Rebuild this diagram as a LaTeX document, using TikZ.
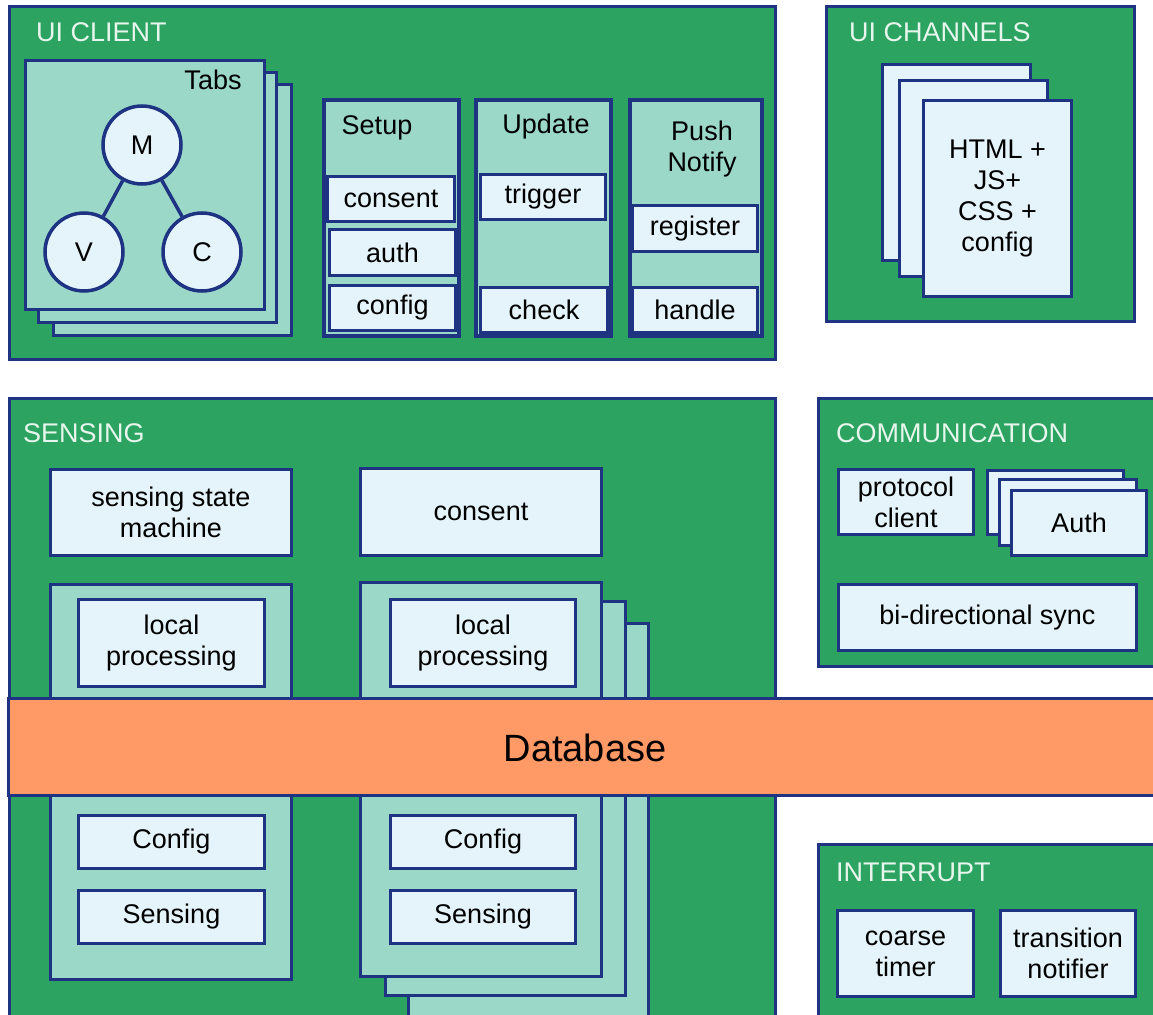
\documentclass[tikz,border=0pt]{standalone}
\usepackage{fontspec}
\setmainfont{Liberation Sans}
\definecolor{panelgreen}{HTML}{2CA360}
\definecolor{tealfill}{HTML}{9BD8C8}
\definecolor{paleblue}{HTML}{E5F4FA}
\definecolor{navy}{HTML}{1E3482}
\definecolor{dbfill}{HTML}{FF9966}
\definecolor{titletext}{HTML}{E6F6EC}
% \boxnode{style}{name}{x1}{y1}{x2}{y2}{text}: a rectangle node given by its corners
\newcommand{\boxnode}[7]{\node[#1, minimum width={(#5)-(#3)}, minimum height={(#6)-(#4)}] (#2) at ({((#3)+(#5))/2},{((#4)+(#6))/2}) {#7};}
\tikzset{
  base/.style={rectangle, inner sep=0pt, outer sep=0pt, align=center,
    font=\fontsize{27}{31}\selectfont, text=black},
  panel/.style={base, draw=navy, fill=panelgreen, line width=3pt},
  tealbox/.style={base, draw=navy, fill=tealfill, line width=3.5pt},
  column/.style={base, draw=navy, fill=tealfill, line width=4pt},
  lbox/.style={base, draw=navy, fill=paleblue, line width=3.5pt},
  dbband/.style={base, draw=navy, fill=dbfill, line width=3pt},
  mvc/.style={circle, draw=navy, fill=paleblue, line width=3.5pt, minimum size=78pt,
    inner sep=0pt, font=\fontsize{27}{31}\selectfont},
  link/.style={draw=navy, line width=3.5pt},
  ptitle/.style={anchor=base west, inner sep=0pt, text=titletext, font=\fontsize{27}{31}\selectfont},
  plain/.style={inner sep=0pt, align=center, font=\fontsize{27}{31}\selectfont}
}
\begin{document}
\begin{tikzpicture}[x=1pt, y=-1pt]
\useasboundingbox (0,0) rectangle (1153,1014);
\clip (0,0) rectangle (1153,1014);

% ---------- UI client ----------
\boxnode{panel}{uiclient}{9.5}{6.5}{775.5}{359.5}{}
\node[ptitle] (uiclientT) at (36,41.7) {UI CLIENT};
\boxnode{tealbox}{tabs3}{53.5}{84.5}{291.5}{335.5}{}
\boxnode{tealbox}{tabs2}{38.5}{72.5}{276.5}{322.5}{}
\boxnode{tealbox}{tabs1}{25.5}{60.5}{264.5}{309.5}{}
\node[plain] (tabsT) at (213,80) {Tabs};
\node[mvc] (M) at (142,145) {M};
\node[mvc] (V) at (84,252) {V};
\node[mvc] (C) at (202,252) {C};
\draw[link] (M) -- (V);
\draw[link] (M) -- (C);

% Setup column
\boxnode{column}{setup}{324}{100}{459}{336}{}
\node[plain] (setupT) at (377,127.5) {Setup};
\boxnode{lbox}{setupConsent}{327.5}{176.5}{454.5}{221.5}{consent}
\boxnode{lbox}{setupAuth}{329.5}{229.5}{455.5}{275.5}{auth}
\boxnode{lbox}{setupConfig}{329.5}{285.5}{455.5}{330.5}{config}

% Update column
\boxnode{column}{update}{476}{100}{611}{336}{}
\node[plain] (updateT) at (546,126.5) {Update};
\boxnode{lbox}{updTrigger}{480.5}{174.5}{605.5}{219.5}{trigger}
\boxnode{lbox}{updCheck}{480.5}{287.5}{607.5}{332.5}{check}

% Push notify column
\boxnode{column}{push}{630}{100}{762}{336}{}
\node[plain] (pushT) at (702,149) {Push\\Notify};
\boxnode{lbox}{pushRegister}{632.5}{205.5}{757.5}{251.5}{register}
\boxnode{lbox}{pushHandle}{632.5}{287.5}{757.5}{332.5}{handle}

% ---------- UI channels ----------
\boxnode{panel}{channels}{826.5}{6.5}{1134.5}{321.5}{}
\node[ptitle] (channelsT) at (849,42) {UI CHANNELS};
\boxnode{lbox}{page3}{882.5}{64.5}{1030.5}{260.5}{}
\boxnode{lbox}{page2}{899.5}{80.5}{1047.5}{276.5}{}
\boxnode{lbox}{page1}{923.5}{100.5}{1071.5}{296.5}{HTML +\\JS+\\CSS +\\config}

% ---------- Sensing ----------
\boxnode{panel}{sensing}{9.5}{398.5}{775.5}{1030}{}
\node[ptitle] (sensingT) at (23,442) {SENSING};
\boxnode{lbox}{stateMachine}{50.5}{469.5}{291.5}{555.5}{sensing state\\machine}
\boxnode{lbox}{sensConsent}{360.5}{468.5}{601.5}{555.5}{consent}

% left sensor
\boxnode{tealbox}{sensorL}{50.5}{584.5}{291.5}{979.5}{}
\boxnode{lbox}{procL}{78.5}{599.5}{264.5}{686.5}{local\\processing}
\boxnode{lbox}{configL}{78.5}{815.5}{264.5}{868.5}{Config}
\boxnode{lbox}{senseL}{78.5}{890.5}{264.5}{943.5}{Sensing}

% right sensor stack
\boxnode{tealbox}{sensorR3}{408.5}{623.5}{648.5}{1030}{}
\boxnode{tealbox}{sensorR2}{385.5}{601.5}{625.5}{995.5}{}
\boxnode{tealbox}{sensorR1}{360.5}{582.5}{601.5}{976.5}{}
\boxnode{lbox}{procR}{390.5}{599.5}{575.5}{686.5}{local\\processing}
\boxnode{lbox}{configR}{390.5}{815.5}{575.5}{868.5}{Config}
\boxnode{lbox}{senseR}{390.5}{890.5}{575.5}{943.5}{Sensing}

% ---------- Communication ----------
\boxnode{panel}{comm}{818.5}{398.5}{1165}{666.5}{}
\node[ptitle] (commT) at (836,442) {COMMUNICATION};
\boxnode{lbox}{protocol}{838.5}{469.5}{973.5}{534.5}{protocol\\client}
\boxnode{lbox}{auth3}{987.5}{470.5}{1123.5}{534.5}{}
\boxnode{lbox}{auth2}{999.5}{479.5}{1136.5}{545.5}{}
\boxnode{lbox}{auth1}{1011.5}{490.5}{1146.5}{555.5}{Auth}
\boxnode{lbox}{bisync}{838.5}{584.5}{1136.5}{650.5}{bi-directional sync}

% ---------- Interrupt ----------
\boxnode{panel}{interrupt}{818.5}{844.5}{1165}{1030}{}
\node[ptitle] (interruptT) at (836,881) {INTERRUPT};
\boxnode{lbox}{timer}{837.5}{910.5}{973.5}{996.5}{coarse\\timer}
\boxnode{lbox}{notifier}{1000.5}{910.5}{1135.5}{996.5}{transition\\notifier}

% ---------- Database band across the sensing area ----------
\boxnode{dbband}{database}{8.5}{698.5}{1165}{795.5}{}
\node[plain, font=\fontsize{38}{44}\selectfont] (databaseT) at (585,748) {Database};
\end{tikzpicture}
\end{document}
